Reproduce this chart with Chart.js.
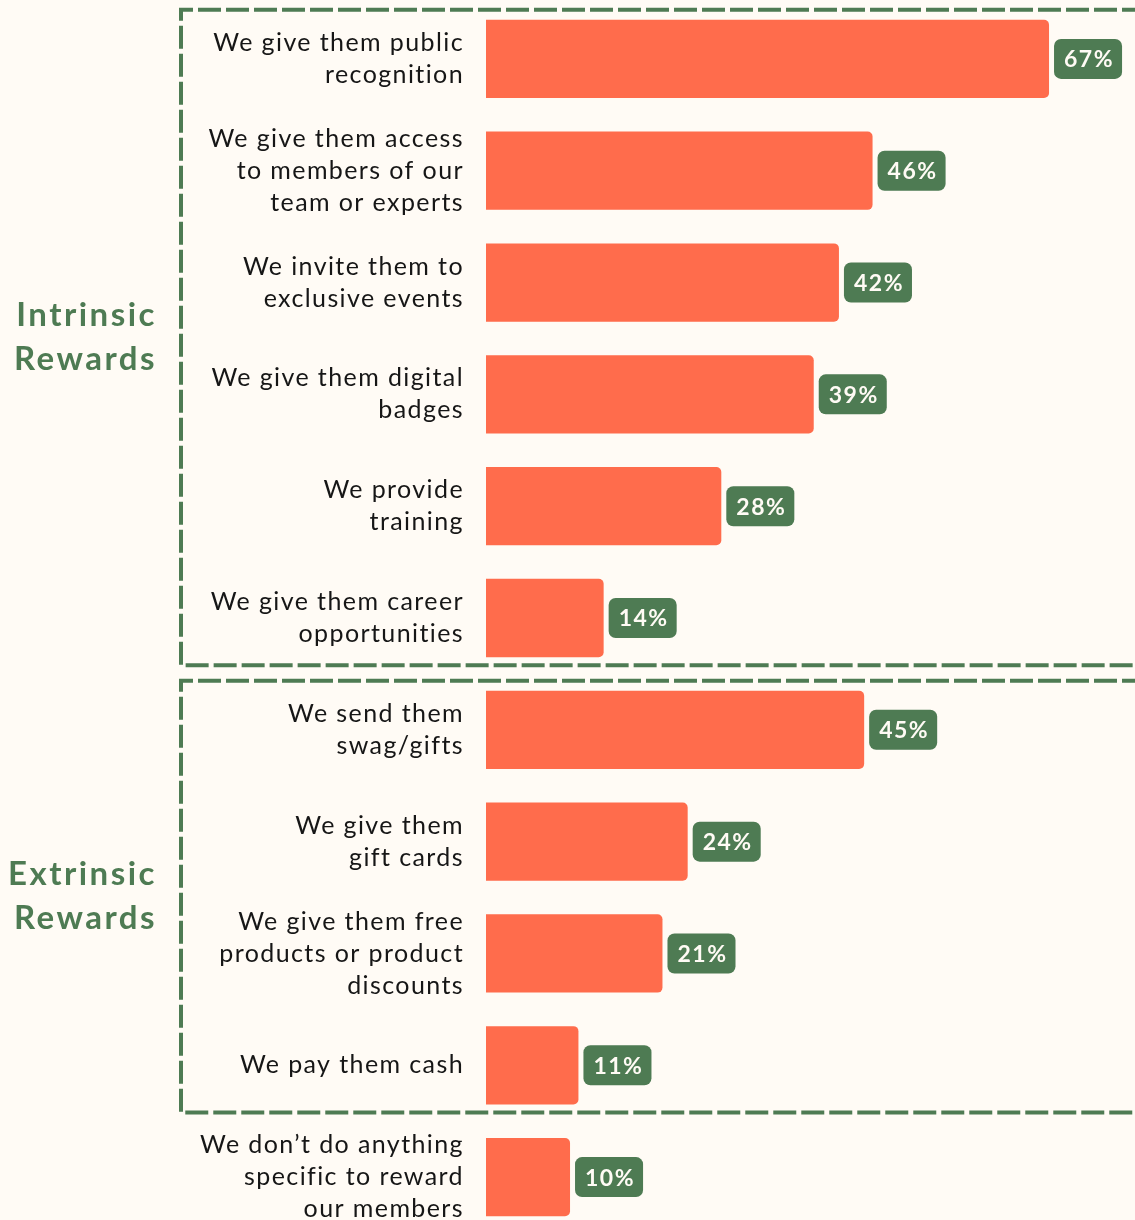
<!DOCTYPE html>
<html>
<head>
<meta charset="utf-8">
<script src="https://cdn.jsdelivr.net/npm/chart.js@4.4.0/dist/chart.umd.min.js"></script>
<style>
    html, body {
        margin: 0;
        padding: 0;
        background: #fffbf5;
        overflow: hidden;
    }
    #wrap {
        width: 1135px;
        height: 1240px;
    }
</style>
</head>
<body>
<div id="wrap">
    <canvas id="rewardChart" width="1135" height="1240"></canvas>
</div>

<script>

const categories = [
    ["We give them public", "recognition"],
    ["We give them access", "to members of our", "team or experts"],
    ["We invite them to", "exclusive events"],
    ["We give them digital", "badges"],
    ["We provide", "training"],
    ["We give them career", "opportunities"],
    ["We send them", "swag/gifts"],
    ["We give them", "gift cards"],
    ["We give them free", "products or product", "discounts"],
    "We pay them cash",
    ["We don’t do anything", "specific to reward", "our members"]
];

const percentages = [67, 46, 42, 39, 28, 14, 45, 24, 21, 11, 10];

// groups drawn as dashed boxes
const groupNames = [
    ["Intrinsic", "Rewards"],
    ["Extrinsic", "Rewards"]
];
const groupFirst = [0, 6];
const groupLast = [5, 9];

const barColor = "#ff6c4c";
const green = "#4e7b53";
const cream = "#fffbf5";

function setSpacing(chart)
{
    chart.ctx.letterSpacing = "1.4px";
}

const spacingPlugin = {
    id: "spacing",
    beforeUpdate: setSpacing,
    beforeDraw: setSpacing
};

// BACKGROUND

const backgroundPlugin = {
    id: "background",
    beforeDraw(chart)
    {
        const ctx = chart.ctx;
        ctx.save();
        ctx.fillStyle = cream;
        ctx.fillRect(0, 0, chart.width, chart.height);
        ctx.restore();
    }
};

// VALUE BADGES

const badgePlugin = {
    id: "badges",
    afterDatasetsDraw(chart)
    {
        const ctx = chart.ctx;
        const bars = chart.getDatasetMeta(0).data;

        ctx.save();
        ctx.letterSpacing = "1.5px";
        ctx.font = "bold 23px Lato";
        ctx.textBaseline = "middle";
        ctx.textAlign = "left";

        bars.forEach((bar, i) =>
        {
            const text = percentages[i] + "%";
            const w = ctx.measureText(text).width + 18;
            const h = 40;
            const x = bar.x + 5;
            const y = bar.y - h / 2;

            ctx.fillStyle = green;
            ctx.beginPath();
            ctx.roundRect(x, y, w, h, 7);
            ctx.fill();

            ctx.fillStyle = cream;
            ctx.fillText(text, x + 10, bar.y + 1);
        });

        ctx.restore();
    }
};

// GROUP BOXES

const groupPlugin = {
    id: "groups",
    afterDraw(chart)
    {
        const ctx = chart.ctx;
        const bars = chart.getDatasetMeta(0).data;

        ctx.save();

        groupNames.forEach((name, g) =>
        {
            const first = bars[groupFirst[g]];
            const last = bars[groupLast[g]];

            const top = first.y - first.height / 2 - 10;
            const bottom = last.y + last.height / 2 + 8;
            const left = 181;
            const right = chart.width + 10;

            ctx.strokeStyle = green;
            ctx.lineWidth = 4;
            ctx.setLineDash([23, 5]);
            ctx.beginPath();
            ctx.moveTo(right, top);
            ctx.lineTo(left, top);
            ctx.lineTo(left, bottom);
            ctx.lineTo(right, bottom);
            ctx.stroke();

            ctx.setLineDash([]);
            ctx.letterSpacing = "2.5px";
            ctx.font = "bold 33px Lato";
            ctx.fillStyle = green;
            ctx.textAlign = "right";
            ctx.textBaseline = "middle";

            const mid = (top + bottom) / 2;
            ctx.fillText(name[0], 157, mid - 22);
            ctx.fillText(name[1], 157, mid + 22);
        });

        ctx.restore();
    }
};

const ctx =
    document
        .getElementById("rewardChart")
        .getContext("2d");

const rewardChart = new Chart(ctx, {

    type: "bar",

    data: {
        labels: categories,
        datasets: [{
            data: percentages,
            backgroundColor: barColor,
            borderRadius: 5,
            categoryPercentage: 1,
            barPercentage: 0.7
        }]
    },

    options: {
        indexAxis: "y",
        responsive: false,
        animation: false,
        devicePixelRatio: 1,

        layout: {
            padding: {
                top: 3,
                bottom: 7,
                left: 0,
                right: 0
            }
        },

        plugins: {
            legend: { display: false },
            tooltip: { enabled: false }
        },

        scales: {
            x: {
                display: false,
                min: 0,
                max: 77.23
            },
            y: {
                grid: { display: false, drawTicks: false },
                border: { display: false },
                ticks: {
                    padding: 22,
                    color: "#161616",
                    font: {
                        family: "Lato",
                        size: 25,
                        lineHeight: 32 / 25
                    }
                },
                afterFit(scale)
                {
                    scale.width = 486;
                    scale.paddingTop = 0;
                    scale.paddingBottom = 0;
                }
            }
        }
    },

    plugins: [spacingPlugin, backgroundPlugin, badgePlugin, groupPlugin]
});

</script>
</body>
</html>
